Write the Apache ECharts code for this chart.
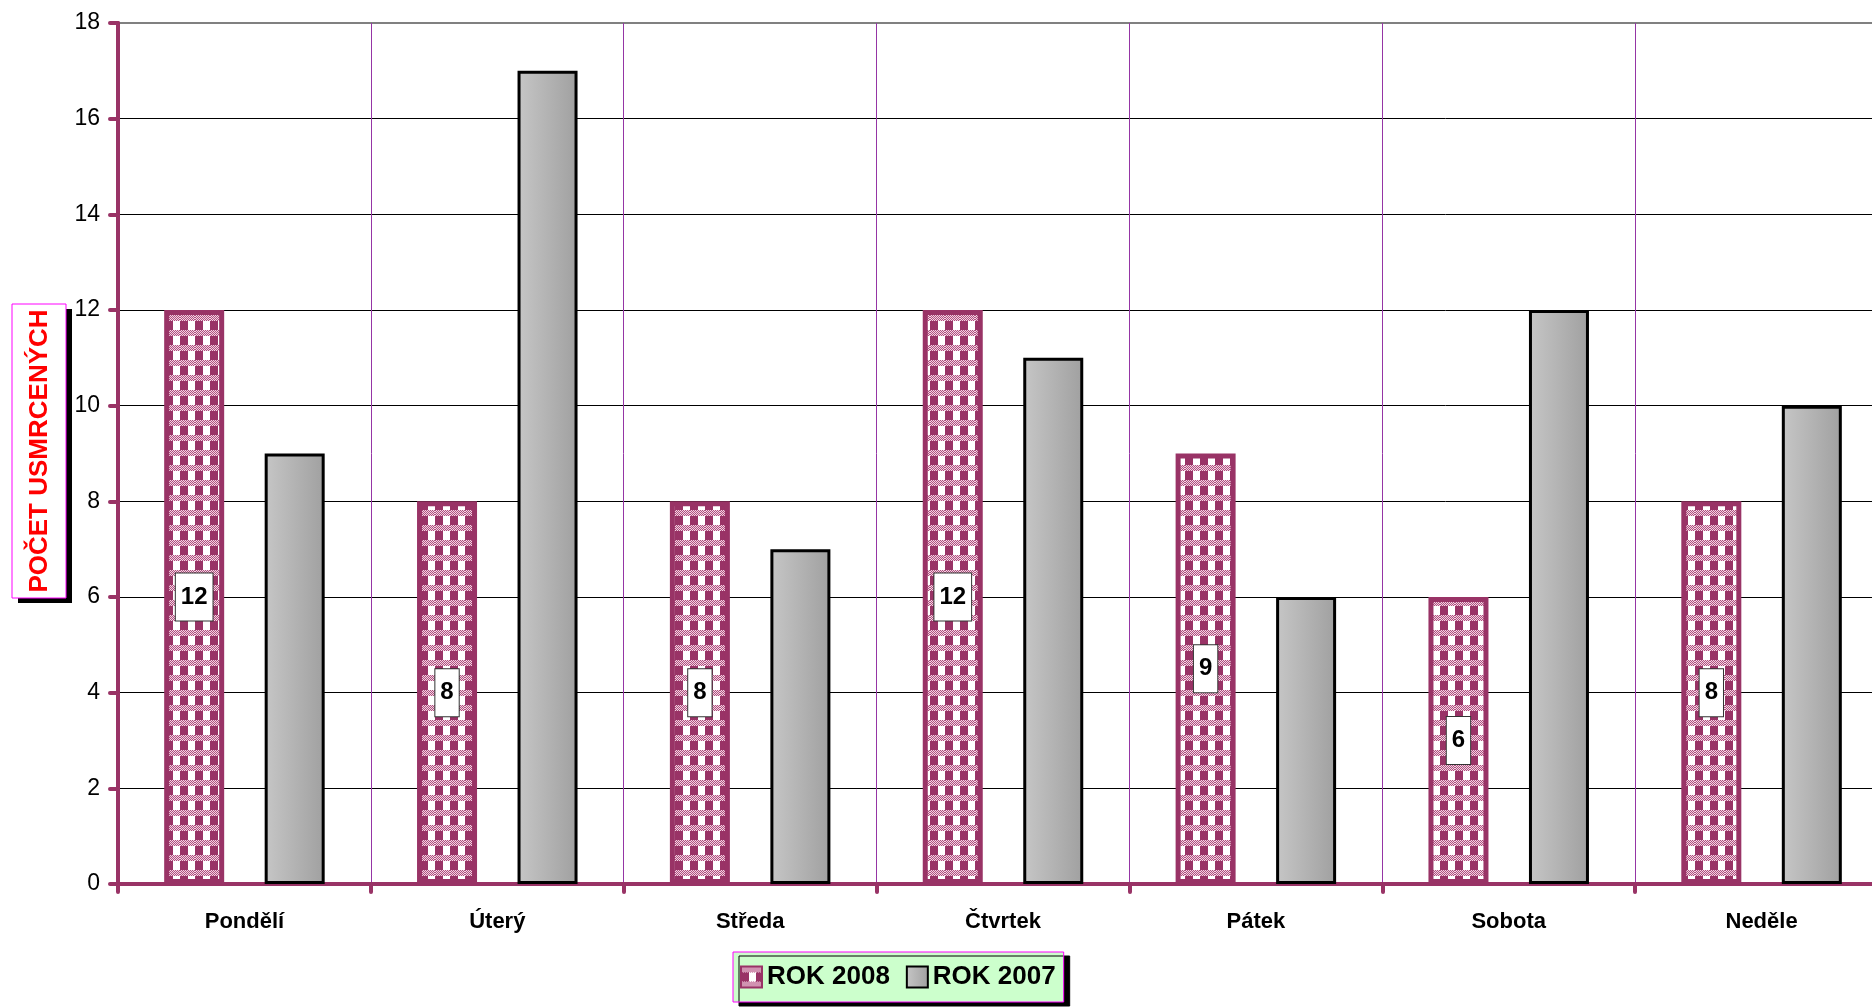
<!DOCTYPE html>
<html>
<head>
<meta charset="utf-8">
<script src="https://cdn.jsdelivr.net/npm/echarts@6/dist/echarts.min.js"></script>
<style>
html,body{margin:0;padding:0;background:#fff;overflow:hidden;width:1872px;height:1008px;}
#chart{width:1890px;height:1008px;}
</style>
</head>
<body>
<div id="chart"></div>
<script>
var categories = ['Pondělí', 'Úterý', 'Středa', 'Čtvrtek', 'Pátek', 'Sobota', 'Neděle'];
var rok2008 = [12, 8, 8, 12, 9, 6, 8];
var rok2007 = [9, 17, 7, 11, 6, 12, 10];
var seriesNames = ['ROK 2008', 'ROK 2007'];
var yTitle = 'POČET USMRCENÝCH';

var FONT = '"Liberation Sans", Arial, sans-serif';
var MAG = '#993366';

function makePattern() {
  var c = document.createElement('canvas');
  c.width = 15; c.height = 15;
  var g = c.getContext('2d');
  g.fillStyle = '#ffffff';
  g.fillRect(0, 0, 15, 15);
  for (var y = 0; y < 6; y++) {
    for (var x = 0; x < 15; x++) {
      g.fillStyle = ((x + y) % 2 === 0) ? '#b0507f' : '#f2d4e3';
      g.fillRect(x, y, 1, 1);
    }
  }
  g.fillStyle = MAG;
  g.fillRect(0, 6, 8, 9);
  return c;
}

var chart = echarts.init(document.getElementById('chart'), null, {renderer: 'canvas'});

var gridColors = [];
for (var i = 0; i < 9; i++) gridColors.push('#000000');
gridColors.push('#808080');

var option = {
  animation: false,
  backgroundColor: '#ffffff',
  textStyle: {fontFamily: FONT},
  grid: {
    left: 118, top: 23, right: 2, bottom: 124,
    show: true, borderColor: '#808080', borderWidth: 2, backgroundColor: 'transparent'
  },
  legend: {
    left: 733, top: 952,
    data: seriesNames,
    icon: 'rect',
    itemWidth: 21, itemHeight: 21, itemGap: 16,
    padding: [12, 8, 12, 7],
    backgroundColor: '#ccffcc',
    borderColor: '#ff00ff', borderWidth: 1,
    shadowColor: '#000000', shadowOffsetX: 6, shadowOffsetY: 4, shadowBlur: 0,
    textStyle: {fontFamily: FONT, fontSize: 26, fontWeight: 'bold', color: '#000'}
  },
  xAxis: {
    type: 'category',
    data: categories,
    boundaryGap: true,
    axisLine: {show: true, lineStyle: {color: MAG, width: 4, cap: 'round'}},
    axisTick: {show: true, length: 8, lineStyle: {color: MAG, width: 4, cap: 'round'}},
    axisLabel: {fontFamily: FONT, fontSize: 22, fontWeight: 'bold', color: '#000', margin: 27},
    splitLine: {show: true, lineStyle: {color: '#9535a5', width: 1}}
  },
  yAxis: {
    type: 'value',
    min: 0, max: 18, interval: 2,
    axisLine: {show: true, lineStyle: {color: MAG, width: 4, cap: 'round'}},
    axisTick: {show: true, length: 8, lineStyle: {color: MAG, width: 4, cap: 'round'}},
    axisLabel: {fontFamily: FONT, fontSize: 23, color: '#000', margin: 18},
    splitLine: {show: true, lineStyle: {color: gridColors, width: 1}}
  },
  series: [
    {
      name: seriesNames[0],
      type: 'bar',
      data: rok2008,
      barWidth: 60,
      barGap: '67.5%',
      itemStyle: {
        color: {image: makePattern(), repeat: 'repeat'},
        borderColor: MAG, borderWidth: 5
      },
      label: {
        show: true, position: 'inside',
        fontFamily: FONT, fontSize: 24, fontWeight: 'bold', color: '#000',
        backgroundColor: '#ffffff', borderColor: '#333333', borderWidth: 1,
        padding: [11, 5, 10, 5], lineHeight: 26
      }
    },
    {
      name: seriesNames[1],
      type: 'bar',
      data: rok2007,
      barWidth: 60,
      itemStyle: {
        color: {type: 'linear', x: 0, y: 0, x2: 1, y2: 0,
          colorStops: [{offset: 0, color: '#c6c6c6'}, {offset: 1, color: '#a0a0a0'}]},
        borderColor: '#000000', borderWidth: 3
      }
    }
  ],
  graphic: [
    {type: 'rect', shape: {x: 18, y: 309, width: 54, height: 294}, style: {fill: '#000'}, z: 10},
    {type: 'rect', shape: {x: 12, y: 304, width: 54, height: 294}, style: {fill: '#fff', stroke: '#ff00ff', lineWidth: 1}, z: 11},
    {type: 'text', x: 40, y: 451, rotation: Math.PI / 2, z: 12,
      style: {text: yTitle, fill: '#ff0000', font: 'bold 26px "Liberation Sans", Arial, sans-serif', align: 'center', verticalAlign: 'middle'}}
  ]
};
chart.setOption(option);
</script>
</body>
</html>
